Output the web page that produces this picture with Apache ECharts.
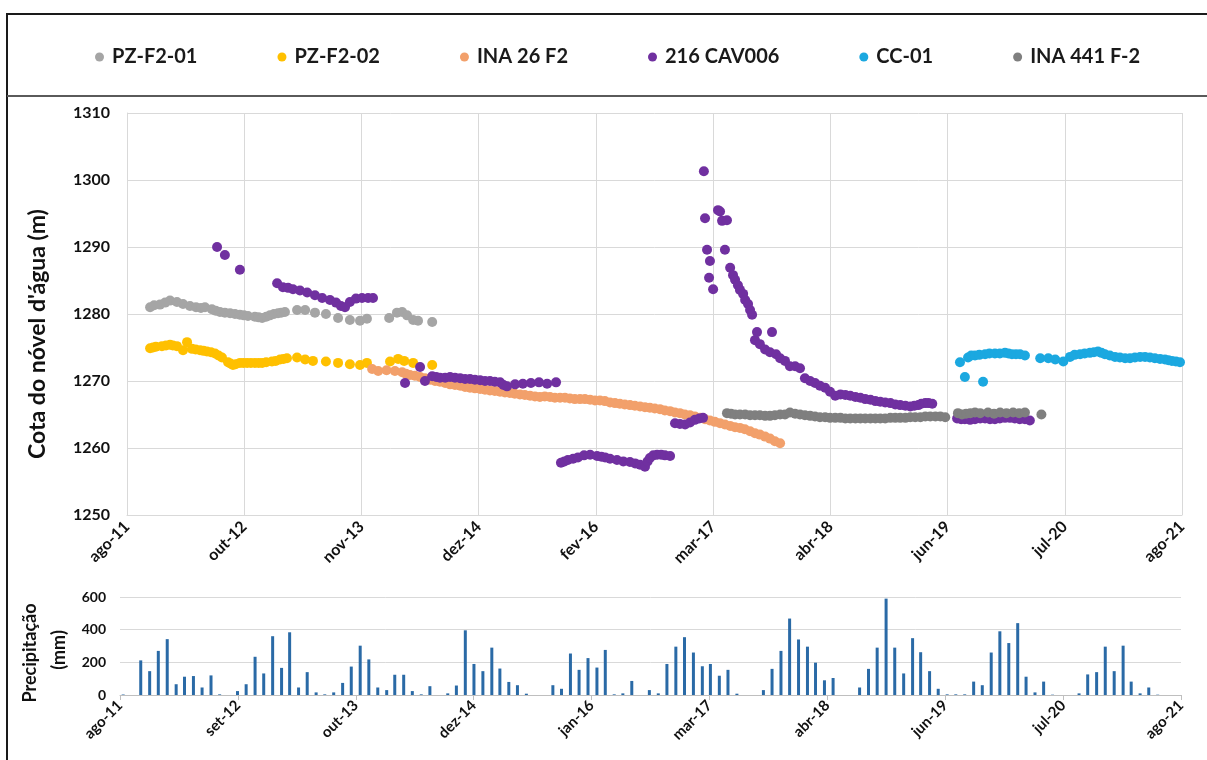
<!DOCTYPE html>
<html><head><meta charset="utf-8">
<script src="https://cdn.jsdelivr.net/npm/echarts@6/dist/echarts.min.js"></script>
<style>html,body{margin:0;padding:0;background:#fff}#c{width:1207px;height:760px}</style>
</head><body><div id="c"></div>
<script>
// ---------- DATA ----------
const seriesNames = ['PZ-F2-01','PZ-F2-02','INA 26 F2','216 CAV006','CC-01','INA 441 F-2'];
const topTickLabels = ['ago-11','out-12','nov-13','dez-14','fev-16','mar-17','abr-18','jun-19','jul-20','ago-21'];
const bottomTickLabels = ['ago-11','set-12','out-13','dez-14','jan-16','mar-17','abr-18','jun-19','jul-20','ago-21'];

const pzF201 = [
['2011-11-14',1281.0],['2011-11-28',1281.3],['2011-12-18',1281.4],['2012-01-05',1281.7],['2012-01-22',1282.0],['2012-02-15',1281.8],['2012-03-07',1281.5],['2012-03-31',1281.2],['2012-04-21',1281.0],
['2012-05-08',1280.9],['2012-05-22',1281.0],['2012-06-15',1280.7],['2012-06-28',1280.5],['2012-07-13',1280.3],['2012-07-30',1280.2],['2012-08-17',1280.1],['2012-09-03',1280.0],['2012-09-20',1279.9],
['2012-10-04',1279.8],['2012-10-18',1279.7],['2012-11-11',1279.6],['2012-11-24',1279.5],['2012-12-06',1279.4],['2012-12-20',1279.6],
['2013-01-02',1279.8],['2013-01-16',1280.0],['2013-01-30',1280.1],['2013-02-10',1280.2],['2013-02-23',1280.3],['2013-04-06',1280.6],['2013-05-04',1280.6],['2013-06-07',1280.2],['2013-07-15',1280.0],['2013-08-26',1279.4],['2013-10-06',1279.1],['2013-11-10',1279.0],['2013-12-04',1279.3],
['2014-02-19',1279.4],['2014-03-18',1280.2],['2014-04-05',1280.3],['2014-04-22',1279.8],['2014-05-13',1279.1],['2014-05-30',1279.0],['2014-07-18',1278.8]
];
const pzF202 = [
['2011-11-14',1274.9],['2011-11-24',1275.0],['2011-12-04',1275.1],['2011-12-25',1275.2],['2012-01-08',1275.3],['2012-01-22',1275.4],['2012-02-01',1275.3],['2012-02-15',1275.2],['2012-03-07',1274.6],['2012-03-21',1275.8],['2012-04-07',1274.8],['2012-04-20',1274.7],['2012-05-05',1274.6],
['2012-05-17',1274.5],['2012-05-29',1274.4],['2012-06-12',1274.3],['2012-06-26',1274.1],['2012-07-08',1273.8],['2012-07-20',1273.5],['2012-08-10',1272.8],['2012-08-18',1272.6],['2012-08-27',1272.4],['2012-09-05',1272.5],['2012-09-20',1272.7],['2012-10-02',1272.7],['2012-10-15',1272.7],['2012-10-28',1272.7],['2012-11-11',1272.7],['2012-11-24',1272.7],['2012-12-06',1272.7],['2012-12-20',1272.8],
['2013-01-09',1272.9],['2013-01-22',1273.0],['2013-02-06',1273.2],['2013-02-18',1273.3],['2013-03-02',1273.4],['2013-04-06',1273.5],['2013-05-04',1273.2],['2013-05-31',1273.0],['2013-07-15',1272.9],['2013-08-26',1272.7],['2013-10-06',1272.5],['2013-11-10',1272.4],['2013-12-04',1272.7],
['2014-02-22',1272.9],['2014-03-22',1273.3],['2014-04-12',1273.0],['2014-05-13',1272.7],['2014-07-18',1272.4]
];
const ina26F2 = [
['2013-12-22',1271.8],['2014-01-12',1271.5],['2014-02-10',1271.6],['2014-03-11',1271.5],['2014-04-05',1271.3],['2014-04-18',1271.1],['2014-05-02',1270.9],['2014-05-19',1270.8],['2014-06-06',1270.6],['2014-06-23',1270.4],
['2014-07-11',1270.2],['2014-07-28',1270.0],['2014-08-14',1269.9],['2014-09-01',1269.7],['2014-09-18',1269.5],['2014-10-05',1269.4],['2014-10-23',1269.3],['2014-11-09',1269.1],['2014-11-26',1269.0],['2014-12-13',1268.9],
['2014-12-31',1268.8],['2015-01-17',1268.7],['2015-02-03',1268.6],['2015-02-20',1268.5],['2015-03-10',1268.4],['2015-03-27',1268.3],['2015-04-13',1268.2],['2015-04-30',1268.1],['2015-05-18',1268.0],['2015-06-04',1267.9],
['2015-06-22',1267.8],['2015-07-09',1267.7],['2015-07-26',1267.6],['2015-08-12',1267.7],['2015-08-30',1267.6],['2015-09-16',1267.5],['2015-10-04',1267.5],['2015-10-21',1267.5],['2015-11-07',1267.4],['2015-11-24',1267.3],
['2015-12-12',1267.3],['2015-12-29',1267.3],['2016-01-16',1267.2],['2016-02-02',1267.1],['2016-02-19',1267.1],['2016-03-07',1267.0],['2016-03-25',1266.8],['2016-04-11',1266.7],['2016-04-28',1266.6],['2016-05-15',1266.5],
['2016-06-02',1266.4],['2016-06-19',1266.3],['2016-07-07',1266.2],['2016-07-24',1266.1],['2016-08-10',1266.0],['2016-08-27',1265.9],['2016-09-14',1265.8],['2016-10-01',1265.6],['2016-10-19',1265.5],['2016-11-05',1265.3],
['2016-11-22',1265.2],['2016-12-09',1265.0],['2016-12-27',1264.9],['2017-01-13',1264.7],['2017-01-31',1264.5],['2017-02-17',1264.3],['2017-03-06',1264.1],['2017-03-23',1263.9],['2017-04-10',1263.7],['2017-04-27',1263.5],
['2017-05-15',1263.3],['2017-06-01',1263.1],['2017-06-18',1263.0],['2017-07-05',1262.8],['2017-07-23',1262.5],['2017-08-09',1262.2],['2017-08-26',1262.0],['2017-09-13',1261.7],['2017-09-30',1261.4],['2017-10-17',1261.0],['2017-11-04',1260.7]
];
const cav006 = [
['2012-07-03',1290.0],['2012-07-30',1288.8],['2012-09-20',1286.6],
['2013-01-27',1284.6],['2013-02-16',1284.0],['2013-03-06',1283.9],['2013-03-23',1283.7],['2013-04-16',1283.5],['2013-05-11',1283.2],['2013-06-07',1282.8],['2013-07-02',1282.4],['2013-07-29',1282.1],
['2013-08-19',1281.7],['2013-09-05',1281.2],['2013-09-19',1281.0],['2013-10-06',1281.8],['2013-10-27',1282.3],['2013-11-17',1282.4],['2013-12-08',1282.4],['2013-12-25',1282.4],
['2014-04-15',1269.7],['2014-06-06',1272.1],['2014-06-23',1270.0],['2014-07-18',1270.7],['2014-08-01',1270.6],['2014-08-14',1270.5],['2014-09-01',1270.5],['2014-09-18',1270.6],['2014-10-05',1270.5],['2014-10-23',1270.4],['2014-11-09',1270.3],['2014-11-26',1270.3],['2014-12-13',1270.2],['2014-12-31',1270.1],
['2015-01-17',1270.0],['2015-02-03',1270.0],['2015-02-20',1269.9],['2015-03-10',1269.8],['2015-03-22',1269.4],['2015-04-03',1269.2],['2015-05-01',1269.5],['2015-05-28',1269.6],['2015-06-25',1269.7],['2015-07-23',1269.8],['2015-08-20',1269.6],['2015-09-20',1269.8],
['2015-10-07',1257.8],['2015-10-19',1258.0],['2015-10-31',1258.2],['2015-11-18',1258.4],['2015-12-05',1258.6],['2015-12-26',1258.9],['2016-01-16',1259.0],['2016-02-09',1258.8],['2016-02-24',1258.7],['2016-03-08',1258.6],['2016-03-25',1258.4],['2016-04-18',1258.2],['2016-05-10',1258.0],['2016-06-02',1257.9],['2016-06-20',1257.7],['2016-07-07',1257.5],
['2016-07-24',1257.2],['2016-08-02',1258.0],['2016-08-10',1258.5],['2016-08-22',1258.9],['2016-09-04',1259.0],['2016-09-18',1259.0],['2016-10-01',1258.9],['2016-10-19',1258.8],
['2016-11-05',1263.7],['2016-11-22',1263.6],['2016-12-10',1263.5],['2016-12-27',1263.8],['2017-01-13',1264.2],['2017-01-28',1264.4],['2017-02-10',1264.5],
['2017-02-13',1301.3],['2017-02-17',1294.3],['2017-02-24',1289.6],['2017-03-03',1285.4],['2017-03-06',1287.9],['2017-03-17',1283.7],['2017-04-03',1295.5],['2017-04-10',1295.3],['2017-04-17',1293.9],
['2017-05-04',1294.0],['2017-04-27',1289.6],['2017-05-15',1286.9],['2017-05-25',1285.8],['2017-06-01',1285.1],['2017-06-11',1284.3],['2017-06-18',1283.6],['2017-06-29',1283.0],['2017-07-06',1282.1],
['2017-07-16',1281.5],['2017-07-23',1280.6],['2017-07-30',1279.9],['2017-08-09',1276.1],['2017-08-16',1277.3],['2017-08-26',1275.5],['2017-09-13',1274.7],['2017-09-30',1274.3],['2017-10-07',1277.3],
['2017-10-21',1274.0],['2017-11-04',1273.4],['2017-11-21',1273.0],['2017-12-08',1272.2],['2017-12-26',1272.2],['2018-01-12',1271.9],['2018-01-29',1270.4],['2018-02-16',1270.0],['2018-03-05',1269.7],
['2018-03-22',1269.3],['2018-04-09',1269.0],['2018-04-26',1268.4],['2018-05-14',1267.8],['2018-06-01',1268.0],['2018-06-18',1267.9],['2018-07-05',1267.8],['2018-07-23',1267.6],['2018-08-09',1267.5],['2018-08-26',1267.3],['2018-09-13',1267.2],['2018-09-30',1267.0],['2018-10-17',1266.9],
['2018-11-03',1266.8],['2018-11-21',1266.7],['2018-12-08',1266.5],['2018-12-25',1266.4],['2019-01-12',1266.3],['2019-01-29',1266.2],['2019-02-12',1266.3],['2019-02-26',1266.4],['2019-03-08',1266.6],['2019-03-22',1266.7],['2019-04-02',1266.7],['2019-04-15',1266.6],
['2019-07-10',1264.4],['2019-07-24',1264.3],['2019-08-06',1264.3],['2019-08-24',1264.2],['2019-09-10',1264.3],['2019-09-28',1264.4],['2019-10-15',1264.4],['2019-11-01',1264.3],['2019-11-18',1264.3],['2019-12-05',1264.4],['2019-12-23',1264.5],['2020-01-09',1264.5],['2020-01-26',1264.4],['2020-02-12',1264.3],['2020-03-01',1264.3],['2020-03-18',1264.1]
];
const cc01 = [
['2019-07-20',1272.8],['2019-08-06',1270.6],['2019-08-17',1273.5],['2019-08-28',1273.8],['2019-09-10',1273.8],['2019-09-25',1273.9],['2019-10-08',1269.9],['2019-10-15',1274.0],['2019-10-30',1274.1],['2019-11-18',1274.1],['2019-12-05',1274.1],['2019-12-23',1274.2],['2020-01-04',1274.1],['2020-01-16',1274.0],['2020-01-30',1274.0],
['2020-02-13',1274.0],['2020-03-01',1273.8],['2020-04-23',1273.4],['2020-05-21',1273.4],['2020-06-14',1273.2],['2020-07-12',1272.9],['2020-08-04',1273.6],['2020-08-20',1273.9],['2020-09-08',1274.0],['2020-09-24',1274.1],['2020-10-12',1274.2],['2020-10-26',1274.3],
['2020-11-09',1274.4],['2020-11-21',1274.2],['2020-12-03',1274.0],['2020-12-20',1273.8],['2021-01-07',1273.6],['2021-01-24',1273.5],['2021-02-11',1273.4],['2021-02-28',1273.4],['2021-03-17',1273.5],['2021-04-04',1273.6],['2021-04-21',1273.6],['2021-05-08',1273.5],
['2021-05-25',1273.4],['2021-06-12',1273.3],['2021-06-29',1273.2],['2021-07-11',1273.1],['2021-07-23',1273.0],['2021-08-06',1272.9],['2021-08-20',1272.8]
];
const ina441F2 = [
['2017-05-04',1265.2],['2017-05-18',1265.1],['2017-06-01',1265.0],['2017-06-18',1265.0],['2017-07-06',1265.0],['2017-07-23',1264.9],['2017-08-09',1264.9],['2017-08-26',1264.9],['2017-09-13',1264.8],['2017-09-30',1264.8],['2017-10-17',1264.9],['2017-11-04',1265.0],['2017-11-21',1265.0],['2017-12-08',1265.3],['2017-12-26',1265.1],
['2018-01-12',1265.0],['2018-01-29',1264.9],['2018-02-16',1264.8],['2018-03-05',1264.7],['2018-03-22',1264.6],['2018-04-09',1264.6],['2018-04-26',1264.5],['2018-05-14',1264.5],['2018-06-01',1264.5],['2018-06-18',1264.4],['2018-07-05',1264.4],['2018-07-23',1264.4],['2018-08-09',1264.4],['2018-08-26',1264.4],
['2018-09-13',1264.4],['2018-09-30',1264.4],['2018-10-17',1264.4],['2018-11-03',1264.4],['2018-11-21',1264.5],['2018-12-08',1264.5],['2018-12-25',1264.5],['2019-01-12',1264.5],['2019-01-29',1264.6],['2019-02-15',1264.6],['2019-03-05',1264.6],['2019-03-22',1264.7],['2019-04-08',1264.7],['2019-04-26',1264.7],['2019-05-13',1264.7],['2019-05-30',1264.6],
['2019-07-13',1265.2],['2019-07-27',1265.0],['2019-08-10',1265.1],['2019-08-25',1265.2],['2019-09-10',1265.3],['2019-09-28',1265.2],['2019-10-25',1265.3],['2019-11-15',1265.1],['2019-12-06',1265.3],['2019-12-28',1265.2],['2020-01-20',1265.3],['2020-02-10',1265.2],['2020-03-01',1265.3],['2020-04-27',1265.0]
];
// monthly precipitation (mm), from ago-2011
const precipStart = [2011, 8];
const precipitation = [
3,0,212,146,270,342,66,112,116,46,120,4,
0,24,66,234,132,360,166,384,46,140,16,4,
16,74,174,302,218,46,30,124,124,24,4,54,
0,10,58,396,190,146,290,162,80,60,8,0,
0,60,38,254,154,226,168,276,4,10,86,0,
30,10,190,296,354,260,176,190,118,154,8,0,
0,30,160,270,468,340,296,198,90,104,0,0,
46,160,290,590,290,132,348,262,146,38,4,4,
4,82,60,260,390,318,440,112,16,82,2,0,
0,10,126,140,296,146,302,82,10,46,2,0
];
const colors = ['#A5A5A5','#FFC000','#F2A06B','#7030A0','#1BA8E0','#7F7F7F'];
const barColor = '#2A6AA6';

// ---------- AXES ----------
const DAY = 86400000;
const topMin = Date.UTC(2011,7,26), topInt = 406*DAY, topMax = topMin + 9*topInt;
const botMin = Date.UTC(2011,6,21), botInt = 35366112000, botMax = botMin + 9*botInt;
function ts(s){const p=s.split('-');return Date.UTC(+p[0],+p[1]-1,+p[2]);}
function pts(a){return a.map(d=>[ts(d[0]),d[1]]);}
const precipData = precipitation.map((v,i)=>[Date.UTC(precipStart[0], precipStart[1]-1+i, 1), v]);

const FONT = 'Lato';
const seriesData = [pzF201,pzF202,ina26F2,cav006,cc01,ina441F2];
const scatterSeries = seriesNames.map((n,i)=>({
  name:n, type:'scatter', xAxisIndex:0, yAxisIndex:0, symbolSize:10,
  itemStyle:{color:colors[i], opacity:1}, emphasis:{disabled:true},
  data: pts(seriesData[i])
}));

const chart = echarts.init(document.getElementById('c'), null, {renderer:'canvas'});
chart.setOption({
  animation:false,
  backgroundColor:'#fff',
  textStyle:{fontFamily:FONT},
  legend:{
    data: seriesNames.map((n,i)=>({name:n, itemStyle:{color:colors[i]}})),
    icon:'circle', itemWidth:9, itemHeight:9, itemGap:80,
    left:90, top:42,
    textStyle:{fontFamily:FONT, fontWeight:'bold', fontSize:20, color:'#1a1a1a', padding:[0,0,0,3]}
  },
  grid:[
    {left:127, right:25, top:113, height:402},
    {left:120, right:26, top:597, height:98}
  ],
  xAxis:[
    {type:'value', gridIndex:0, min:topMin, max:topMax, interval:topInt,
     axisLine:{show:true, lineStyle:{color:'#D9D9D9'}}, axisTick:{show:false},
     splitLine:{show:true, lineStyle:{color:'#D9D9D9', width:1}},
     axisLabel:{rotate:45, margin:9, fontFamily:FONT, fontWeight:'bold', fontSize:16, color:'#111',
       showMinLabel:true, showMaxLabel:true,
       formatter:v=>topTickLabels[Math.round((v-topMin)/topInt)]||''}},
    {type:'value', gridIndex:1, min:botMin, max:botMax, interval:botInt,
     axisLine:{show:true, lineStyle:{color:'#BFBFBF'}}, axisTick:{show:true, length:5, lineStyle:{color:'#BFBFBF'}},
     splitLine:{show:false},
     axisLabel:{rotate:45, margin:8, fontFamily:FONT, fontWeight:'bold', fontSize:15, color:'#111',
       showMinLabel:true, showMaxLabel:true,
       formatter:v=>bottomTickLabels[Math.round((v-botMin)/botInt)]||''}}
  ],
  yAxis:[
    {type:'value', gridIndex:0, min:1250, max:1310, interval:10,
     axisLine:{show:true, lineStyle:{color:'#D9D9D9'}}, axisTick:{show:false},
     splitLine:{show:true, lineStyle:{color:'#D9D9D9'}},
     axisLabel:{margin:17, fontFamily:FONT, fontWeight:'bold', fontSize:16, color:'#111', formatter:v=>String(v)}},
    {type:'value', gridIndex:1, min:0, max:600, interval:200,
     axisLine:{show:false}, axisTick:{show:false},
     splitLine:{show:true, lineStyle:{color:'#D9D9D9'}},
     axisLabel:{margin:14, fontFamily:FONT, fontWeight:'bold', fontSize:14, color:'#111', formatter:v=>String(v)}}
  ],
  graphic:[
    {type:'rect', silent:true, shape:{x:7,y:14,width:1230,height:780}, style:{fill:'none', stroke:'#1a1a1a', lineWidth:2}},
    {type:'line', silent:true, shape:{x1:7,y1:96,x2:1207,y2:96}, style:{stroke:'#5a5a5a', lineWidth:2}},
    {type:'text', silent:true, x:38, y:334, rotation:Math.PI/2,
     style:{text:"Cota do nóvel d'água (m)", fontFamily:FONT, fontWeight:'bold', fontSize:23, fill:'#111', align:'center', verticalAlign:'middle'}},
    {type:'text', silent:true, x:30, y:653, rotation:Math.PI/2,
     style:{text:'Precipitação', fontFamily:FONT, fontWeight:'bold', fontSize:18, fill:'#111', align:'center', verticalAlign:'middle'}},
    {type:'text', silent:true, x:59, y:650, rotation:Math.PI/2,
     style:{text:'(mm)', fontFamily:FONT, fontWeight:'bold', fontSize:18, fill:'#111', align:'center', verticalAlign:'middle'}}
  ],
  series: scatterSeries.concat([{
    name:'Precipitação', type:'bar', xAxisIndex:1, yAxisIndex:1, barWidth:3,
    itemStyle:{color:barColor}, emphasis:{disabled:true}, data:precipData
  }])
});
</script></body></html>
